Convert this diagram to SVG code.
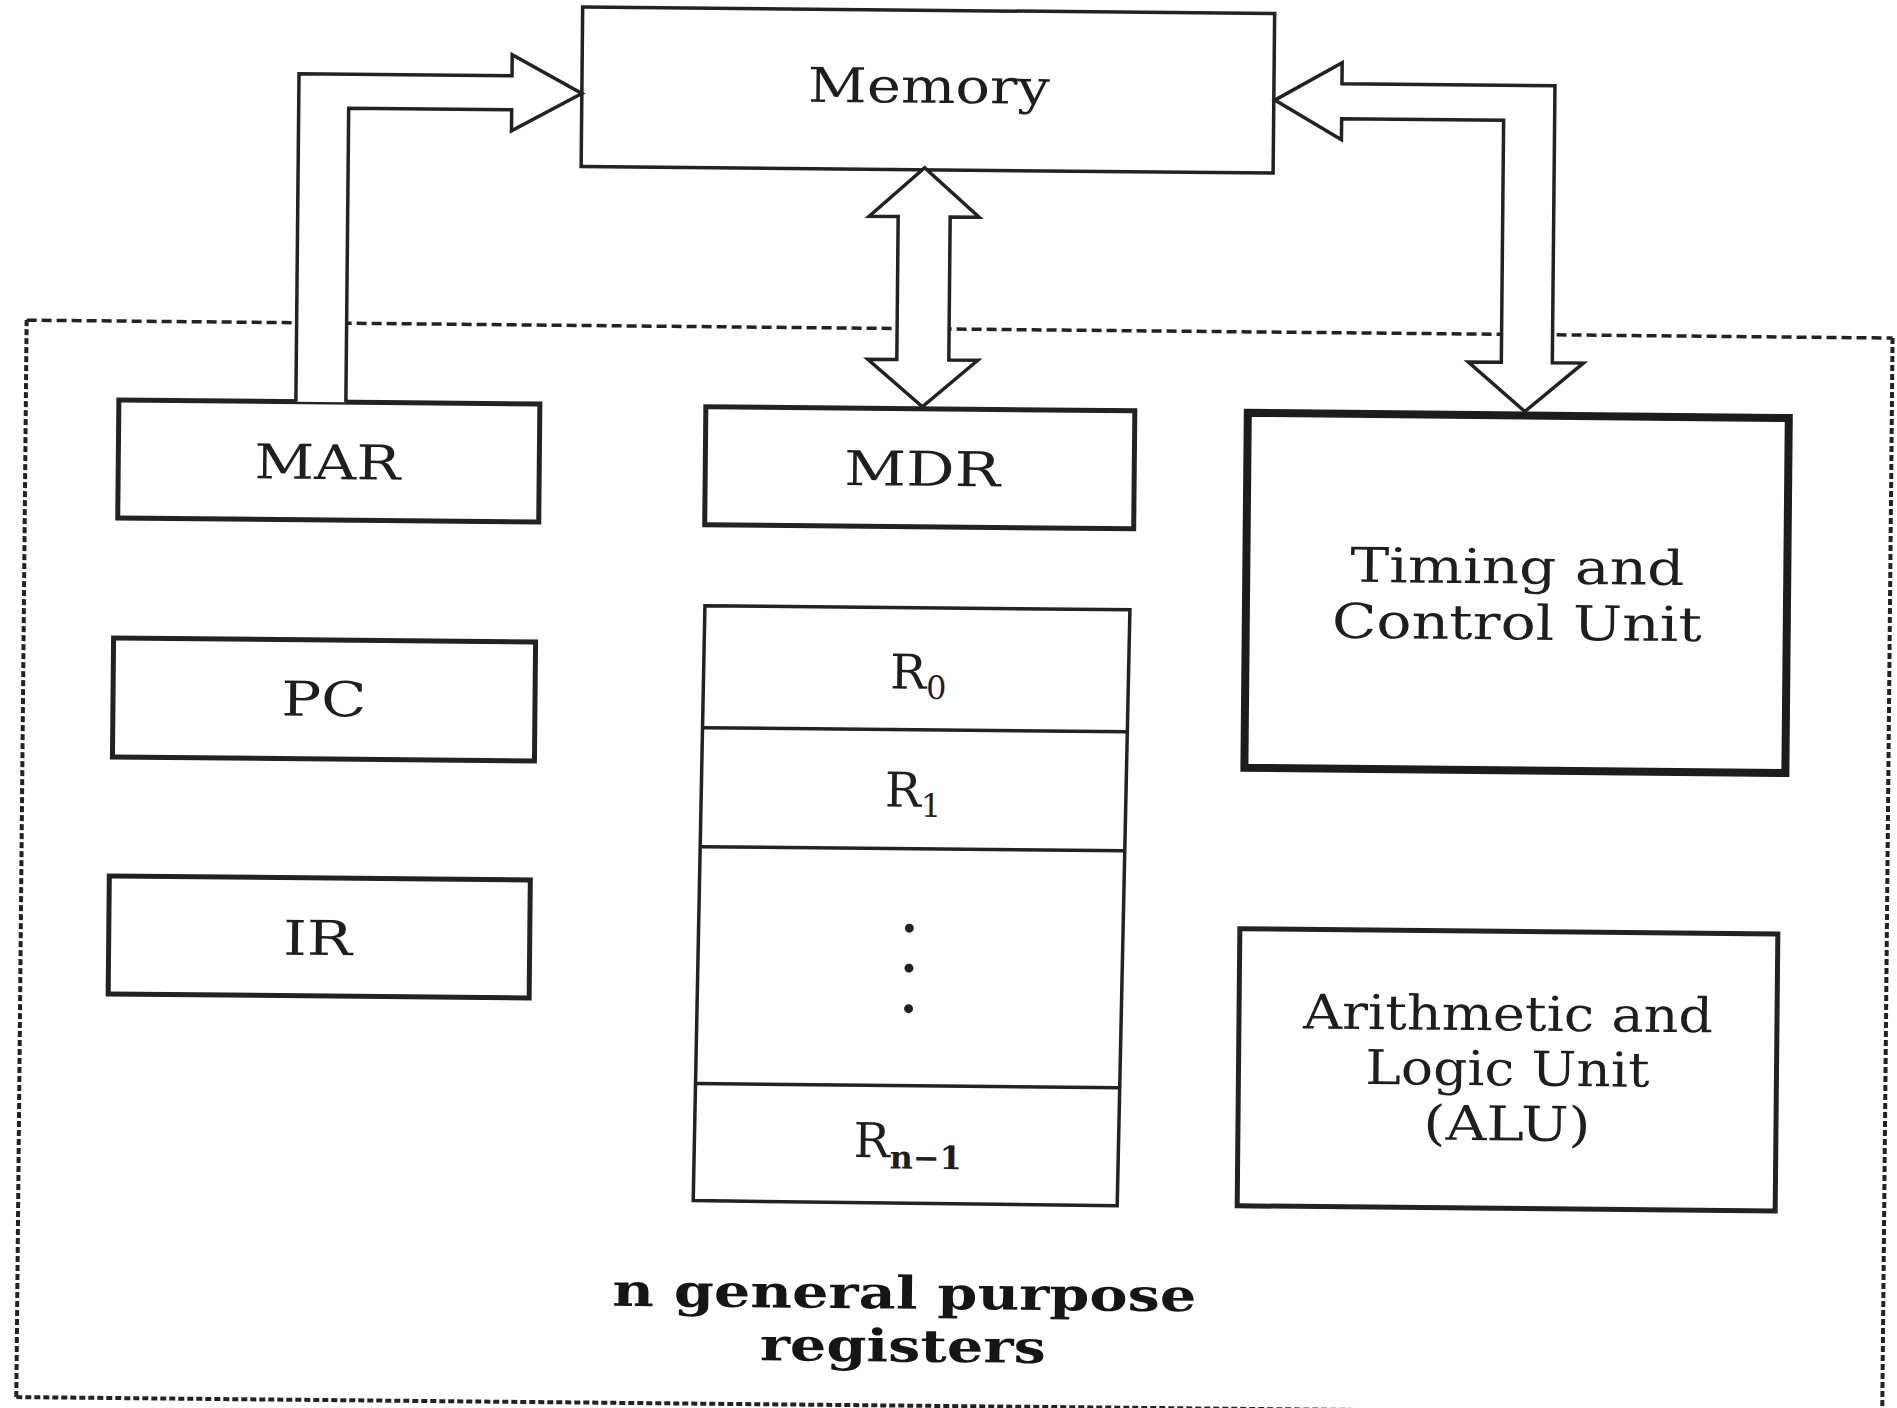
<svg xmlns="http://www.w3.org/2000/svg" width="1897" height="1408" viewBox="0 0 1897 1408">
  <style>
    .box { fill: #fff; stroke: #222; stroke-width: 5; }
    .thin { fill: #fff; stroke: #222; stroke-width: 3.5; }
    .thick { fill: #fff; stroke: #1c1c1c; stroke-width: 8; }
    .bus { fill: #fff; stroke: #222; stroke-width: 3.5; stroke-linejoin: miter; }
    .frame { fill: none; stroke: #222; stroke-width: 3.5; stroke-dasharray: 10 5; }
    .frame-side { fill: none; stroke: #222; stroke-width: 4; stroke-dasharray: 6 3; }
    .lbl { font-family: "DejaVu Serif", "Liberation Serif", serif; font-size: 48px; fill: #1e1e1e; text-anchor: middle; }
    .sub { font-size: 32px; }
    .bold { font-family: "DejaVu Serif", "Liberation Serif", serif; font-size: 45px; font-weight: bold; fill: #151515; text-anchor: middle; }
  </style>

  <rect width="1897" height="1408" fill="#fff"/>

  <!-- whole figure is printed with a slight clockwise tilt -->
  <g transform="rotate(0.55 948 704)">

    <!-- processor boundary -->
    <g id="cpu-boundary">
      <path class="frame" d="M23 329 H1889"/>
      <path class="frame-side" d="M1889 329 V1412 M23 329 V1406 M23 1406 H1889"/>
    </g>

    <g id="memory">
      <rect class="thin" x="576" y="10.5" width="692" height="159.5"/>
      <text class="lbl" x="923" y="103" textLength="242" lengthAdjust="spacingAndGlyphs">Memory</text>
    </g>

    <g id="mar">
      <rect class="box" x="116" y="408" width="421" height="118"/>
      <text class="lbl" x="325" y="485" textLength="146" lengthAdjust="spacingAndGlyphs">MAR</text>
    </g>

    <g id="pc">
      <rect class="box" x="113" y="646" width="422" height="119"/>
      <text class="lbl" x="324" y="722" textLength="85" lengthAdjust="spacingAndGlyphs">PC</text>
    </g>

    <g id="ir">
      <rect class="box" x="111" y="884" width="421" height="118"/>
      <text class="lbl" x="320" y="961" textLength="69" lengthAdjust="spacingAndGlyphs">IR</text>
    </g>

    <g id="mdr">
      <rect class="box" x="703" y="409" width="429" height="118"/>
      <text class="lbl" x="920" y="486" textLength="156" lengthAdjust="spacingAndGlyphs">MDR</text>
    </g>

    <g id="registers">
      <polygon class="thin" points="704,608 1129,608 1122,1204 698,1203"/>
      <line class="thin" x1="702.8" y1="730" x2="1127.6" y2="730"/>
      <line class="thin" x1="701.6" y1="849" x2="1126.2" y2="849"/>
      <line class="thin" x1="699.2" y1="1086" x2="1123.4" y2="1086"/>
      <text class="lbl" x="918" y="689">R<tspan class="sub" dy="10">0</tspan></text>
      <text class="lbl" x="914" y="807">R<tspan class="sub" dy="10">1</tspan></text>
      <circle cx="911.5" cy="928.5" r="4.5" fill="#222"/>
      <circle cx="911.5" cy="968.5" r="4.5" fill="#222"/>
      <circle cx="911.5" cy="1009" r="4.5" fill="#222"/>
      <text class="lbl" x="912" y="1158">R<tspan class="sub" dy="11" font-weight="bold">n−1</tspan></text>
    </g>

    <g id="control-unit">
      <rect class="thick" x="1245" y="410" width="541" height="355"/>
      <text class="lbl" x="1516" y="578" textLength="334" lengthAdjust="spacingAndGlyphs">Timing and</text>
      <text class="lbl" x="1516" y="634" textLength="370" lengthAdjust="spacingAndGlyphs">Control Unit</text>
    </g>

    <g id="alu">
      <rect class="box" x="1242" y="926" width="538" height="277"/>
      <text class="lbl" x="1511" y="1025" textLength="410" lengthAdjust="spacingAndGlyphs">Arithmetic and</text>
      <text class="lbl" x="1511" y="1080" textLength="284" lengthAdjust="spacingAndGlyphs">Logic Unit</text>
      <text class="lbl" x="1511" y="1135" textLength="167" lengthAdjust="spacingAndGlyphs">(ALU)</text>
    </g>

    <g id="gpr-caption">
      <text class="bold" x="910" y="1309" textLength="584" lengthAdjust="spacingAndGlyphs">n general purpose</text>
      <text class="bold" x="909" y="1362" textLength="286" lengthAdjust="spacingAndGlyphs">registers</text>
    </g>

    <!-- wide bus arrows -->
    <g id="connectors">
      <!-- address bus: MAR to Memory -->
      <path class="bus" d="M293 408 V80 H506 V59 L576 97 L506 135 V114 H343 V408"/>
      <!-- data bus: Memory and MDR -->
      <path class="bus" d="M919.5 168 L974.5 217 H945.5 V360 H974.5 L919.5 407 L864.5 360 H893.5 V217 H864.5 Z"/>
      <!-- control bus: Memory and Timing/Control -->
      <path class="bus" d="M1269 97 L1336 59 V80 H1549 V357 H1580 L1522 406 L1465 357 H1498 V115 H1336 V136 Z"/>
    </g>
  </g>
</svg>
